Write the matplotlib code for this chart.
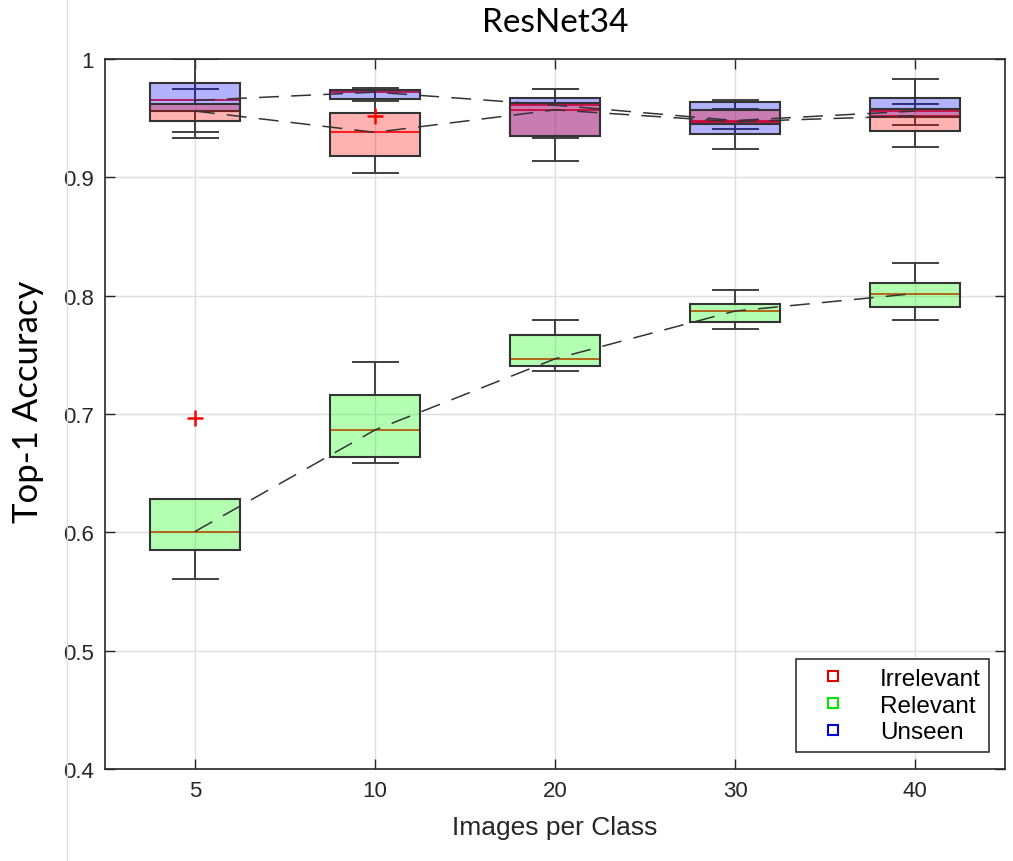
import matplotlib
matplotlib.use("Agg")
import matplotlib.pyplot as plt
from matplotlib.lines import Line2D
import numpy as np

# images per class (categories) and box statistics
classes = ["5", "10", "20", "30", "40"]
ytick_vals = [0.4, 0.5, 0.6, 0.7, 0.8, 0.9, 1.0]
ytick_labels = ["0.4", "0.5", "0.6", "0.7", "0.8", "0.9", "1"]

# Irrelevant
irr_q1 = [0.948, 0.918, 0.935, 0.945, 0.939]
irr_med = [0.956, 0.938, 0.957, 0.947, 0.952]
irr_q3 = [0.962, 0.954, 0.963, 0.957, 0.9575]
irr_lo = [0.933, 0.9037, 0.914, 0.924, 0.926]
irr_hi = [1.0, 0.9754, 0.975, 0.965, 0.983]
irr_out = [[], [0.952], [], [], []]

# Relevant
rel_q1 = [0.585, 0.664, 0.7403, 0.7774, 0.7904]
rel_med = [0.6007, 0.6865, 0.7466, 0.787, 0.8018]
rel_q3 = [0.6285, 0.716, 0.7664, 0.7933, 0.8103]
rel_lo = [0.5605, 0.6587, 0.7366, 0.7717, 0.7791]
rel_hi = [0.6285, 0.7443, 0.7791, 0.8046, 0.8273]
rel_out = [[0.697], [], [], [], []]

# Unseen
uns_q1 = [0.956, 0.9666, 0.935, 0.937, 0.951]
uns_med = [0.965, 0.972, 0.961, 0.948, 0.956]
uns_q3 = [0.980, 0.9737, 0.967, 0.964, 0.967]
uns_lo = [0.938, 0.9643, 0.933, 0.9405, 0.944]
uns_hi = [0.9745, 0.9754, 0.975, 0.9575, 0.962]
uns_out = [[], [], [], [], []]

series = [
    ("Unseen", (0, 0, 1), uns_q1, uns_med, uns_q3, uns_lo, uns_hi, uns_out, 3),
    ("Relevant", (0, 1, 0), rel_q1, rel_med, rel_q3, rel_lo, rel_hi, rel_out, 3),
    ("Irrelevant", (1, 0, 0), irr_q1, irr_med, irr_q3, irr_lo, irr_hi, irr_out, 3.1),
]

plt.rcParams["font.family"] = "Liberation Sans"

fig = plt.figure(figsize=(10.13, 8.62), dpi=100)
ax = fig.add_axes([105 / 1013, 1 - 770 / 862, 900 / 1013, 710 / 862])
pos = np.arange(1, len(classes) + 1)

for name, col, q1, med, q3, lo, hi, out, zp in series:
    stats = []
    for i in range(len(pos)):
        stats.append(dict(q1=q1[i], med=med[i], q3=q3[i], whislo=lo[i], whishi=hi[i],
                          fliers=out[i], label=classes[i]))
    ax.bxp(stats, positions=pos, widths=0.5, capwidths=0.25, patch_artist=True,
           showfliers=True,
           boxprops=dict(facecolor=col + (0.3,), edgecolor=(0.2, 0.2, 0.2), linewidth=1.5, zorder=zp),
           whiskerprops=dict(color=(0.25, 0.25, 0.25), linewidth=1.4, zorder=2),
           capprops=dict(color=(0.25, 0.25, 0.25), linewidth=1.4, zorder=2),
           medianprops=dict(color=(1, 0, 0), linewidth=1.2, zorder=2),
           flierprops=dict(marker="+", markeredgecolor="red", markersize=11, markeredgewidth=1.8,
                           linestyle="none", zorder=5))
    ax.plot(pos, med, color=(0.2, 0.2, 0.2), lw=1.1, dashes=(13, 8), zorder=4)

ax.set_xlim(0.5, 5.5)
ax.set_ylim(0.4, 1.0)
ax.set_xticks(pos, classes)
ax.set_yticks(ytick_vals, ytick_labels)
ax.grid(True, color=(0.87, 0.87, 0.87), linewidth=1.0, zorder=0)
ax.set_axisbelow(True)
ax.tick_params(direction="in", length=7, width=1, top=True, right=True, colors=(0.15, 0.15, 0.15),
               labelsize=16, pad=8)
for s in ax.spines.values():
    s.set_color((0.15, 0.15, 0.15))
    s.set_linewidth(1.2)

ax.set_xlabel("Images per Class", fontsize=19, color=(0.15, 0.15, 0.15), labelpad=10)
fig.text(28 / 1013, 1 - 402 / 862, "Top-1 Accuracy", rotation=90, ha="center", va="center",
         fontsize=25, family="Lato")
ax.set_title("ResNet34", fontsize=24, family="Lato", pad=20)

handles = [Line2D([], [], marker="s", linestyle="none", markerfacecolor="none", markersize=7,
                  markeredgewidth=1.5, markeredgecolor=c)
           for c in [(0.85, 0, 0), (0, 0.9, 0), (0, 0, 0.85)]]
leg = ax.legend(handles, ["Irrelevant", "Relevant", "Unseen"], loc="lower right",
                bbox_to_anchor=(0.9826, 0.024), borderaxespad=0, fancybox=False, framealpha=1,
                prop=dict(size=17.5), handletextpad=0.8, labelspacing=0.2,
                borderpad=0.35, handlelength=2.3)
leg.get_frame().set_edgecolor((0.2, 0.2, 0.2))
leg.get_frame().set_linewidth(1.2)

# faint vertical line left of the y axis, as in the screenshot
fig.add_artist(Line2D([67 / 1013, 67 / 1013], [0, 1], color=(0.88, 0.88, 0.88), lw=1))

fig.savefig("out.png", dpi=100)
